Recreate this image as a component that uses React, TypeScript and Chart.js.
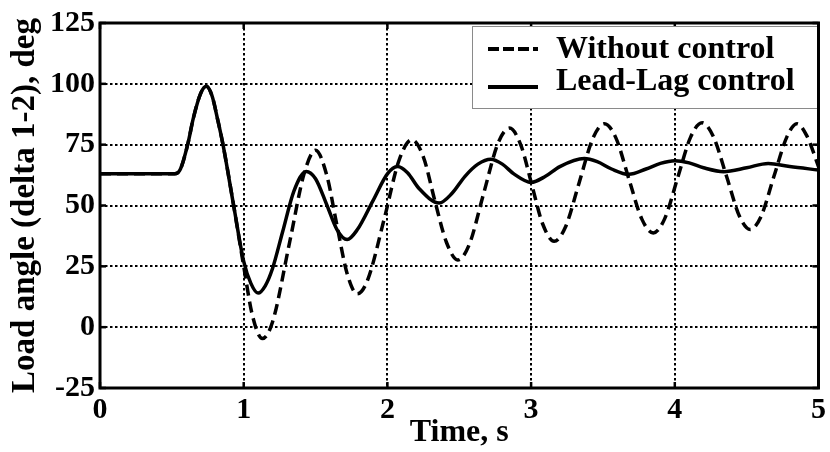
import { useEffect, useRef } from 'react';
import { Chart, registerables } from 'chart.js';

Chart.register(...registerables);

// ---------- data ----------
const xTickValues = [0, 1, 2, 3, 4, 5];
const yTickValues = [-25, 0, 25, 50, 75, 100, 125];

const seriesLabels = ['Without control', 'Lead-Lag control'];
const xTitle = 'Time, s';
const yTitle = 'Load angle (delta 1-2), deg';

// Lead-Lag control (solid)
const leadLagTime = [
  0, 0.52, 0.56, 0.61, 0.65, 0.7, 0.74, 0.78, 0.82, 0.856, 0.93, 1.0, 1.05, 1.1, 1.15, 1.2,
  1.27, 1.35, 1.435, 1.5, 1.58, 1.65, 1.72, 1.79, 1.9, 2.0, 2.07, 2.14, 2.22, 2.36, 2.45,
  2.54, 2.63, 2.72, 2.8, 2.88, 3.0, 3.1, 3.2, 3.37, 3.46, 3.56, 3.68, 3.8, 3.9, 4.0, 4.1,
  4.2, 4.34, 4.5, 4.65, 4.8, 5.0,
];
const leadLagAngle = [
  63, 63, 65, 75, 86, 96, 99, 95, 85, 75, 50, 27, 18, 14, 17, 24,
  39, 56, 64, 61, 50, 40, 36, 40, 52, 63, 66, 63.5, 57, 51, 55,
  62, 67, 69, 67, 63, 59.5, 62, 66, 69.3, 68, 65, 62.8, 65, 67.3, 68.4, 67.5,
  65.5, 63.9, 65.5, 67.3, 66, 64.6,
];

// Without control (dashed)
const noControlTime = [
  0, 0.52, 0.56, 0.61, 0.65, 0.7, 0.74, 0.78, 0.82, 0.856, 0.93, 1.0, 1.06, 1.13, 1.2, 1.32,
  1.42, 1.5, 1.58, 1.645, 1.72, 1.79, 1.86, 1.98, 2.08, 2.17, 2.25, 2.33, 2.41, 2.49, 2.57,
  2.67, 2.77, 2.85, 2.93, 3.005, 3.08, 3.16, 3.24, 3.335, 3.43, 3.51, 3.59, 3.68, 3.77, 3.85,
  3.93, 4.02, 4.11, 4.19, 4.27, 4.36, 4.45, 4.525, 4.6, 4.69, 4.78, 4.85, 4.92, 5.0,
];
const noControlAngle = [
  63, 63, 65, 75, 86, 96, 99, 95, 85, 75, 50, 25, 5, -4.7, 2, 35,
  63, 72.7, 62, 43, 22, 13.7, 19, 45, 68.4, 77, 70, 52, 35, 27.6, 34,
  55, 75.6, 81.8, 74.6, 58.5, 42.5, 35.3, 41.3, 59.5, 77.6, 83.6, 77.8, 61, 44.5, 38.7,
  44.6, 61.4, 78.1, 84, 78.1, 62, 45.6, 40.1, 45.5, 62, 78.2, 83.6, 78.5, 66,
];

// ---------- styling ----------
const FONT = "'Liberation Serif', 'Times New Roman', serif";

const toPoints = (xs: number[], ys: number[]) => xs.map((x, i) => ({ x, y: ys[i] }));

const framePlugin = {
  id: 'frameAndLegend',
  afterDraw(chart: any) {
    const { ctx, chartArea: a, scales } = chart;
    ctx.save();
    ctx.setLineDash([]);
    ctx.strokeStyle = '#000';
    ctx.lineCap = 'butt';

    // inward tick marks on all four sides
    ctx.lineWidth = 2.5;
    const seg = (x1: number, y1: number, x2: number, y2: number) => {
      ctx.beginPath();
      ctx.moveTo(x1, y1);
      ctx.lineTo(x2, y2);
      ctx.stroke();
    };
    xTickValues.forEach((v) => {
      const px = scales.x.getPixelForValue(v);
      seg(px, a.bottom, px, a.bottom - 6);
      seg(px, a.top, px, a.top + 6);
    });
    yTickValues.forEach((v) => {
      const py = scales.y.getPixelForValue(v);
      seg(a.left, py, a.left + 6, py);
      seg(a.right, py, a.right - 6, py);
    });

    // legend box
    const lx = a.left + 372;
    const ly = a.top + 3;
    const lw = a.right - lx;
    const lh = 82;
    ctx.fillStyle = '#fff';
    ctx.fillRect(lx, ly, lw, lh);
    ctx.strokeStyle = '#8a8a8a';
    ctx.lineWidth = 1;
    ctx.strokeRect(lx + 0.5, ly + 0.5, lw, lh);

    ctx.strokeStyle = '#000';
    ctx.lineWidth = 4;
    ctx.setLineDash([11, 4]);
    seg(lx + 16, a.top + 26, lx + 66, a.top + 26);
    ctx.setLineDash([]);
    seg(lx + 16, a.top + 64, lx + 66, a.top + 64);

    ctx.fillStyle = '#000';
    ctx.font = `bold 32px ${FONT}`;
    ctx.textAlign = 'left';
    ctx.textBaseline = 'alphabetic';
    ctx.fillText(seriesLabels[0], lx + 84, a.top + 35);
    ctx.fillText(seriesLabels[1], lx + 84, a.top + 67);

    // frame
    ctx.lineWidth = 3;
    ctx.strokeRect(a.left, a.top, a.right - a.left, a.bottom - a.top);
    ctx.restore();
  },
};

export default function App() {
  const ref = useRef<HTMLCanvasElement>(null);

  useEffect(() => {
    document.body.style.margin = '0';
    const canvas = ref.current;
    if (!canvas) return;
    const tickFont = { family: FONT, size: 30, weight: 'bold' as const };
    const xTitleFont = { family: FONT, size: 32, weight: 'bold' as const };
    const yTitleFont = { family: FONT, size: 33, weight: 'bold' as const };

    const chart = new Chart(canvas, {
      type: 'line',
      data: {
        datasets: [
          {
            label: seriesLabels[1],
            data: toPoints(leadLagTime, leadLagAngle),
            borderColor: '#000',
            borderWidth: 3.5,
            pointRadius: 0,
            fill: false,
            cubicInterpolationMode: 'monotone',
            order: 0,
          },
          {
            label: seriesLabels[0],
            data: toPoints(noControlTime, noControlAngle),
            borderColor: '#000',
            borderWidth: 3.5,
            borderDash: [11, 6],
            pointRadius: 0,
            fill: false,
            cubicInterpolationMode: 'monotone',
            order: 1,
          },
        ],
      },
      options: {
        responsive: false,
        animation: false,
        devicePixelRatio: 1,
        layout: { padding: { top: 20, right: 10, left: 0, bottom: 0 } },
        plugins: { legend: { display: false }, tooltip: { enabled: false } },
        scales: {
          x: {
            type: 'linear',
            min: 0,
            max: 5,
            afterFit: (s: any) => {
              s.height = 64;
            },
            ticks: {
              stepSize: 1,
              maxRotation: 0,
              autoSkip: false,
              padding: 4,
              color: '#000',
              font: tickFont,
            },
            grid: {
              drawTicks: false,
              lineWidth: 2,
              color: (c: any) =>
                c.tick && (c.tick.value === 0 || c.tick.value === 5) ? 'rgba(0,0,0,0)' : '#000',
            },
            border: { display: false, dash: [2.5, 2.5] },
            title: {
              display: true,
              text: xTitle,
              color: '#000',
              font: xTitleFont,
              padding: { top: 0, bottom: 0 },
            },
          },
          y: {
            type: 'linear',
            min: -25,
            max: 125,
            afterFit: (s: any) => {
              s.width = 100;
            },
            ticks: {
              stepSize: 25,
              autoSkip: false,
              padding: 5,
              color: '#000',
              font: tickFont,
            },
            grid: {
              drawTicks: false,
              lineWidth: 2,
              color: (c: any) =>
                c.tick && (c.tick.value === -25 || c.tick.value === 125) ? 'rgba(0,0,0,0)' : '#000',
            },
            border: { display: false, dash: [2.5, 2.5] },
            title: {
              display: true,
              text: yTitle,
              color: '#000',
              font: yTitleFont,
              padding: { top: 6, bottom: 0 },
            },
          },
        },
      },
      plugins: [framePlugin],
    });

    return () => chart.destroy();
  }, []);

  return (
    <div style={{ position: 'absolute', left: 0, top: 0, width: 830, height: 452, background: '#fff' }}>
      <canvas ref={ref} width={830} height={452} style={{ display: 'block' }} />
    </div>
  );
}
